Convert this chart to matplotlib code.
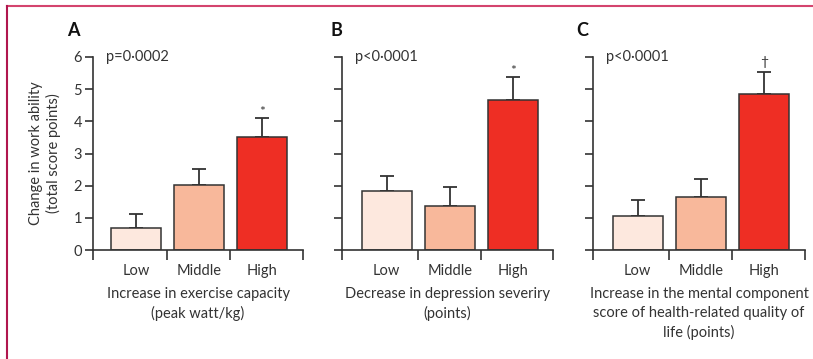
import matplotlib
matplotlib.use("Agg")
import matplotlib.pyplot as plt
from matplotlib.lines import Line2D

plt.rcParams['font.family'] = ['Lato', 'DejaVu Sans']

categories = ["Low", "Middle", "High"]
panel_letters = ["A", "B", "C"]
p_texts = ["p=0·0002", "p<0·0001", "p<0·0001"]
xlabels = ["Increase in exercise capacity\n(peak watt/kg)",
           "Decrease in depression severiry\n(points)",
           "Increase in the mental component\nscore of health-related quality of\nlife (points)"]
means_A = [0.69, 2.01, 3.52]
errs_A = [0.44, 0.51, 0.59]
means_B = [1.84, 1.38, 4.65]
errs_B = [0.47, 0.59, 0.72]
means_C = [1.07, 1.64, 4.84]
errs_C = [0.48, 0.56, 0.69]
marks = ["*", "*", "†"]
yticks = [0, 1, 2, 3, 4, 5, 6]

colors = ["#fde8de", "#f8b89b", "#ee2e24"]
edge = "#333333"
txt = "#333333"
mark_gap = [0.0, 0.0, 0.12]

W, H = 813, 359
fig = plt.figure(figsize=(W / 100, H / 100), dpi=100)

# (left px, right px, xlim, letter x px)
layout = [(93, 303, (-0.68, 2.65), 73), (342, 553, (-0.71, 2.64), 336), (593, 805, (-0.71, 2.65), 582)]
top_px, base_px = 57, 250

data = [(means_A, errs_A), (means_B, errs_B), (means_C, errs_C)]
for i, ((l, r, xl, lx), (m, e)) in enumerate(zip(layout, data)):
    ax = fig.add_axes([l / W, (H - base_px) / H, (r - l) / W, (base_px - top_px) / H])
    x = list(range(len(categories)))
    ax.bar(x, m, width=0.79, color=colors, edgecolor=edge, linewidth=1.1, zorder=2)
    ax.errorbar(x, m, yerr=[[0] * 3, e], fmt='none', ecolor=edge, elinewidth=1.3,
                capsize=5, capthick=1.3, zorder=1)
    ax.set_xlim(*xl)
    ax.set_ylim(0, 6)
    for s in ["top", "right"]:
        ax.spines[s].set_visible(False)
    for s in ["left", "bottom"]:
        ax.spines[s].set_color(edge)
        ax.spines[s].set_linewidth(1.2)
    ax.set_yticks(yticks)
    ax.tick_params(axis='y', direction='out', length=6, width=1.2, color=edge,
                   labelsize=10.5, labelcolor=txt, pad=2)
    if i > 0:
        ax.set_yticklabels([])
    ax.set_xticks([xl[0], 0.5, 1.5, xl[1]])
    ax.set_xticklabels([])
    ax.tick_params(axis='x', direction='out', length=7, width=1.2, color=edge)
    ax.set_xticks(x, minor=True)
    ax.set_xticklabels(categories, minor=True)
    ax.tick_params(axis='x', which='minor', length=0, labelsize=10.5, labelcolor=txt, pad=10)
    for sp in ax.spines.values():
        sp.set_clip_on(False)
    ax.text(xl[0] + 0.2, 6, p_texts[i], fontsize=10.5, color=txt, va='center', ha='left')
    ax.text(2, m[2] + e[2] + mark_gap[i], marks[i], fontsize=10, color=txt, ha='center', va='bottom')
    fig.text(lx / W, 1 - 31 / H, panel_letters[i], fontsize=13,
             fontweight='bold', color='#111111', ha='center', va='center')
    ax.text(0.5, -0.19, xlabels[i], transform=ax.transAxes, fontsize=10.5, color=txt,
            ha='center', va='top', linespacing=1.45)
    if i == 0:
        ax.set_ylabel("Change in work ability\n(total score points)", fontsize=10.5,
                      color=txt, labelpad=9, linespacing=1.2)

fig.add_artist(Line2D([7 / W, 1], [1 - 6 / H, 1 - 6 / H], color="#d4446e", linewidth=1.5))
fig.add_artist(Line2D([7 / W, 7 / W], [0, 1 - 6 / H], color="#b0164e", linewidth=1.5))

fig.savefig("out.png", dpi=100)
